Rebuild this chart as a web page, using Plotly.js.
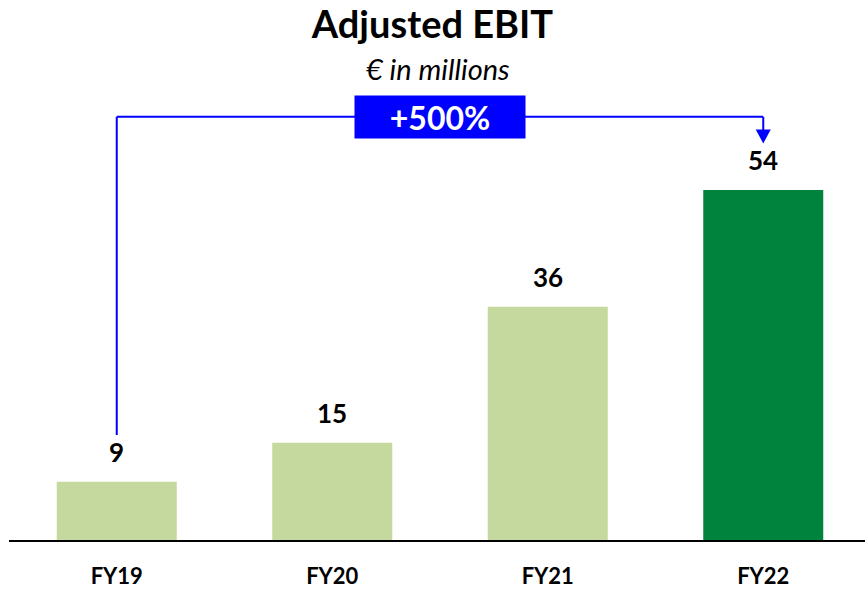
<!DOCTYPE html>
<html>
<head>
<meta charset="utf-8">
<script src="https://cdn.plot.ly/plotly-3.0.1.min.js"></script>
<style>html,body{margin:0;padding:0;background:#fff;}#chart{width:865px;height:589px;}</style>
</head>
<body>
<div id="chart"></div>
<script>
const categories = ["FY19", "FY20", "FY21", "FY22"];
const values = [9, 15, 36, 54];
const barColors = ["#C5D89D", "#C5D89D", "#C5D89D", "#00843D"];
const growthLabel = "+500%";
const titleText = "Adjusted EBIT";
const subtitleText = "€ in millions";

const FONT = "Lato, 'Open Sans', sans-serif";
const BLUE = "#0000FF";
const lastIdx = values.length - 1;
const bracketY = 65.3;
const gap = 7.2;

const trace = {
  type: "bar",
  x: categories.map((c, i) => i),
  y: values,
  marker: { color: barColors },
  width: 120 / 215.5,
  hoverinfo: "skip"
};

const annotations = values.map((v, i) => ({
  x: i, y: v, xref: "x", yref: "y",
  text: "<b>" + v + "</b>",
  showarrow: false, yanchor: "middle", yshift: 30,
  font: { family: FONT, size: 26, color: "#000" }
}));
annotations.push({
  x: 0.5006, y: 1.026, xref: "paper", yref: "paper",
  text: "<i>" + subtitleText + "</i>", showarrow: false,
  xanchor: "center", yanchor: "middle",
  font: { family: FONT, size: 29, color: "#000" }
});
annotations.push({
  x: 1.5, y: bracketY, xref: "x", yref: "y",
  text: "<b>" + growthLabel + "</b>", showarrow: false,
  xanchor: "center", yanchor: "middle",
  width: 170, height: 42, borderpad: 0,
  bgcolor: BLUE,
  font: { family: FONT, size: 32, color: "#fff" }
});

const shapes = [
  { type: "line", xref: "x", yref: "y", x0: 0, x1: 0, y0: values[0] + gap, y1: bracketY, line: { color: BLUE, width: 2 } },
  { type: "line", xref: "x", yref: "y", x0: 0, x1: lastIdx, y0: bracketY, y1: bracketY, line: { color: BLUE, width: 2 } },
  { type: "line", xref: "x", yref: "y", x0: lastIdx, x1: lastIdx, y0: bracketY, y1: values[lastIdx] + gap + 2, line: { color: BLUE, width: 2 } },
  { type: "path", xref: "x", yref: "y", xsizemode: "pixel", ysizemode: "pixel",
    xanchor: lastIdx, yanchor: values[lastIdx] + gap,
    path: "M -7.5 14 L 7.5 14 L 0 0 Z", fillcolor: BLUE, line: { color: BLUE, width: 0 } }
];

const layout = {
  width: 865, height: 589,
  margin: { l: 9, r: 0, t: 80, b: 49 },
  paper_bgcolor: "#fff", plot_bgcolor: "#fff",
  showlegend: false,
  title: {
    text: "<b>" + titleText + "</b>",
    x: 0.5, xref: "container", xanchor: "center",
    y: 1 - 25 / 589, yref: "container", yanchor: "middle",
    font: { family: FONT, size: 38, color: "#000" }
  },
  xaxis: {
    range: [-0.5, -0.5 + 856 / 215.5],
    tickmode: "array",
    tickvals: categories.map((c, i) => i),
    ticktext: categories.map(c => "<b>" + c + "</b>"),
    ticks: "outside", ticklen: 16, tickcolor: "rgba(0,0,0,0)",
    showline: true, linecolor: "#000", linewidth: 2,
    showgrid: false, zeroline: false, fixedrange: true,
    tickfont: { family: FONT, size: 22, color: "#000" }
  },
  yaxis: {
    range: [0, 460 / 6.48],
    visible: false, showgrid: false, zeroline: false, fixedrange: true
  },
  annotations: annotations,
  shapes: shapes
};

Plotly.newPlot("chart", [trace], layout, { staticPlot: true, displayModeBar: false });
</script>
</body>
</html>
